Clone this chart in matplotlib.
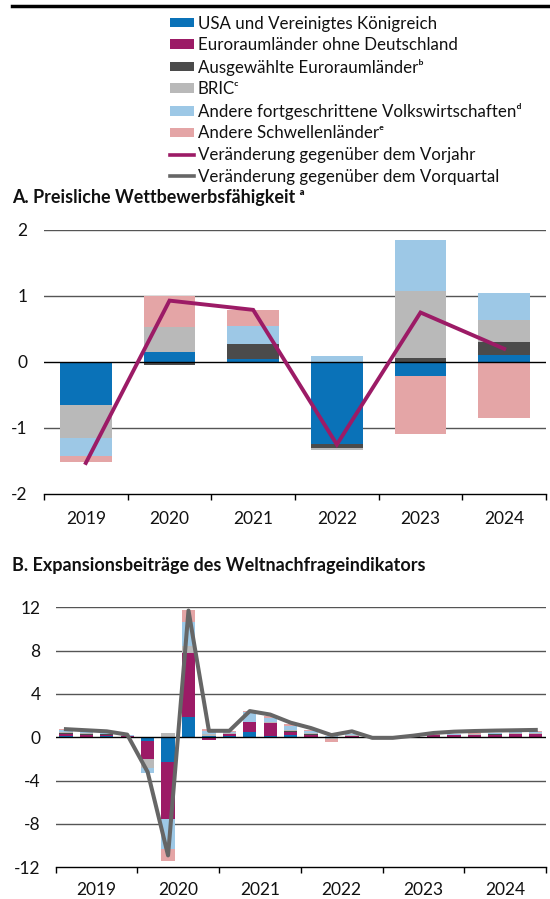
import matplotlib
matplotlib.use('Agg')
import matplotlib.pyplot as plt
import numpy as np
from matplotlib.patches import Patch
from matplotlib.lines import Line2D

plt.rcParams['font.family'] = ['Lato', 'DejaVu Sans']

# ---------------- data ----------------
series_names = ['USA und Vereinigtes Königreich',
                'Euroraumländer ohne Deutschland',
                'Ausgewählte Euroraumländerᵇ',
                'BRICᶜ',
                'Andere fortgeschrittene Volkswirtschaftenᵈ',
                'Andere Schwellenländerᵉ']
line_names = ['Veränderung gegenüber dem Vorjahr',
              'Veränderung gegenüber dem Vorquartal']
colors = ['#0A72B8', '#9C1B66', '#4B4B4B', '#B9B9B9', '#9DC8E6', '#E4A5A6']
line_colors = ['#9C1B66', '#666666']

# Panel A (annual)
years = ['2019', '2020', '2021', '2022', '2023', '2024']
usa_a = [-0.65, 0.15, 0.04, -1.24, -0.21, 0.10]
eur_a = [0.00, 0.00, 0.00, 0.00, 0.00, 0.00]
aus_a = [0.00, -0.05, 0.24, -0.07, 0.06, 0.21]
bric_a = [-0.50, 0.38, 0.00, -0.03, 1.02, 0.32]
fort_a = [-0.27, 0.00, 0.27, 0.09, 0.77, 0.42]
sch_a = [-0.10, 0.47, 0.24, 0.00, -0.88, -0.85]
vorjahr_a = [-1.53, 0.93, 0.79, -1.25, 0.75, 0.20]

# Panel B (quarterly, 2019Q1 .. 2024Q4)
usa_b = [0.08, 0.06, 0.10, 0.02, -0.30, -2.30, 1.90, 0.10,
         0.08, 0.52, 0.15, 0.20, 0.03, 0.02, 0.02, 0.01,
         0.00, 0.01, 0.02, 0.02, 0.03, 0.03, 0.04, 0.05]
eur_b = [0.25, 0.18, 0.12, 0.08, -1.72, -5.20, 5.85, -0.25,
         0.20, 0.86, 1.15, 0.30, 0.22, -0.05, 0.10, 0.03,
         0.02, 0.10, 0.15, 0.18, 0.20, 0.22, 0.24, 0.26]
aus_b = [0.05, 0.05, 0.04, 0.02, 0.00, 0.00, 0.00, 0.05,
         0.05, 0.02, 0.03, 0.05, 0.05, 0.00, 0.02, 0.00,
         0.00, 0.01, 0.01, 0.01, 0.01, 0.01, 0.02, 0.02]
bric_b = [0.12, 0.10, 0.08, 0.03, -0.83, 0.43, 0.65, 0.20,
          0.10, 0.05, 0.10, 0.15, 0.10, -0.10, 0.05, 0.01,
          0.01, 0.02, 0.03, 0.04, 0.04, 0.05, 0.06, 0.07]
fort_b = [0.14, 0.08, 0.07, 0.03, -0.46, -2.80, 2.20, 0.25,
          0.10, 0.85, 0.35, 0.35, 0.15, 0.13, 0.07, 0.02,
          0.01, 0.02, 0.04, 0.05, 0.06, 0.07, 0.09, 0.11]
sch_b = [0.10, 0.05, 0.05, 0.04, 0.00, -1.10, 1.15, 0.20,
         0.07, 0.10, 0.15, 0.15, 0.13, -0.25, 0.05, 0.01,
         0.01, 0.02, 0.03, 0.04, 0.05, 0.05, 0.07, 0.10]
vorquartal_b = [0.75, 0.65, 0.55, 0.25, -3.20, -10.90, 11.70, 0.60,
                0.60, 2.42, 2.10, 1.35, 0.85, 0.20, 0.55, -0.05,
                -0.05, 0.15, 0.40, 0.52, 0.58, 0.62, 0.65, 0.68]

FIG_W, FIG_H = 550, 899
fig = plt.figure(figsize=(FIG_W / 100, FIG_H / 100), dpi=100)


def fx(px):
    return px / FIG_W


def fy(py):
    return 1 - py / FIG_H


def stacked(ax, x, series, width):
    pos = np.zeros(len(x))
    neg = np.zeros(len(x))
    for vals, c in zip(series, colors):
        v = np.asarray(vals, dtype=float)
        bottom = np.where(v >= 0, pos, neg)
        ax.bar(x, v, width=width, bottom=bottom, color=c, linewidth=0, zorder=2)
        pos = pos + np.where(v >= 0, v, 0)
        neg = neg + np.where(v < 0, v, 0)


def style_axis(ax, yticks, n, group, label_pad, ypad):
    ax.set_ylim(yticks[0], yticks[-1])
    ax.set_yticks(yticks)
    ax.set_yticklabels([str(t) for t in yticks])
    ax.tick_params(axis='y', length=0, pad=ypad, labelsize=12.5, colors='#111111')
    for t in yticks[1:]:
        if t == 0:
            continue
        ax.axhline(t, color='#555555', linewidth=1.0, zorder=1)
    ax.axhline(0, color='black', linewidth=1.0, zorder=3)
    for s in ['top', 'left', 'right']:
        ax.spines[s].set_visible(False)
    ax.spines['bottom'].set_color('black')
    ax.spines['bottom'].set_linewidth(1.0)
    ax.set_xlim(-0.5, n - 0.5)
    bounds = np.arange(-0.5, n, group)
    ax.set_xticks(bounds)
    ax.set_xticklabels([''] * len(bounds))
    ax.tick_params(axis='x', which='major', direction='out', length=4, width=1, color='black')
    centers = np.arange(group / 2 - 0.5, n, group)
    ax.set_xticks(centers, minor=True)
    ax.set_xticklabels(years, minor=True)
    ax.tick_params(axis='x', which='minor', length=0, pad=label_pad, labelsize=12.5, colors='#111111')


# ---------------- Panel A ----------------
axA = fig.add_axes([fx(44), fy(494), fx(546) - fx(44), fy(230) - fy(494)])
xa = np.arange(len(years))
stacked(axA, xa, [usa_a, eur_a, aus_a, bric_a, fort_a, sch_a], 0.62)
axA.plot(xa, vorjahr_a, color=line_colors[0], linewidth=2.8, zorder=4,
         solid_joinstyle='miter')
style_axis(axA, [-2, -1, 0, 1, 2], len(years), 1, 12.5, 12)

# ---------------- Panel B ----------------
axB = fig.add_axes([fx(55.7), fy(867.3), fx(546) - fx(55.7), fy(607.3) - fy(867.3)])
xb = np.arange(len(usa_b))
stacked(axB, xb, [usa_b, eur_b, aus_b, bric_b, fort_b, sch_b], 0.65)
axB.plot(xb, vorquartal_b, color=line_colors[1], linewidth=2.9, zorder=4,
         solid_joinstyle='round')
style_axis(axB, [-12, -8, -4, 0, 4, 8, 12], len(usa_b), 4, 10.5, 11)

# ---------------- titles ----------------
fig.text(fx(12), fy(198), 'A. Preisliche Wettbewerbsfähigkeit ᵃ', fontsize=12.9,
         fontweight='bold', va='center', ha='left', color='#111111')
fig.text(fx(12), fy(566), 'B. Expansionsbeiträge des Weltnachfrageindikators', fontsize=13,
         fontweight='bold', va='center', ha='left', color='#111111')

# top rule
fig.add_artist(Line2D([fx(12), fx(550)], [fy(6), fy(6)], color='black', linewidth=2.5))

# ---------------- legend ----------------
handles = [Patch(facecolor=c, edgecolor='none') for c in colors]
handles += [Line2D([0], [0], color=c, linewidth=2.6) for c in line_colors]
labels = series_names + line_names
fig.legend(handles, labels, loc='upper left', bbox_to_anchor=(fx(170), fy(15.5)),
           frameon=False, fontsize=12.2, handlelength=1.4, handleheight=0.5,
           handletextpad=0.25, labelspacing=0.33, borderpad=0, borderaxespad=0,
           labelcolor='#111111')

fig.savefig('out.png', dpi=100)
